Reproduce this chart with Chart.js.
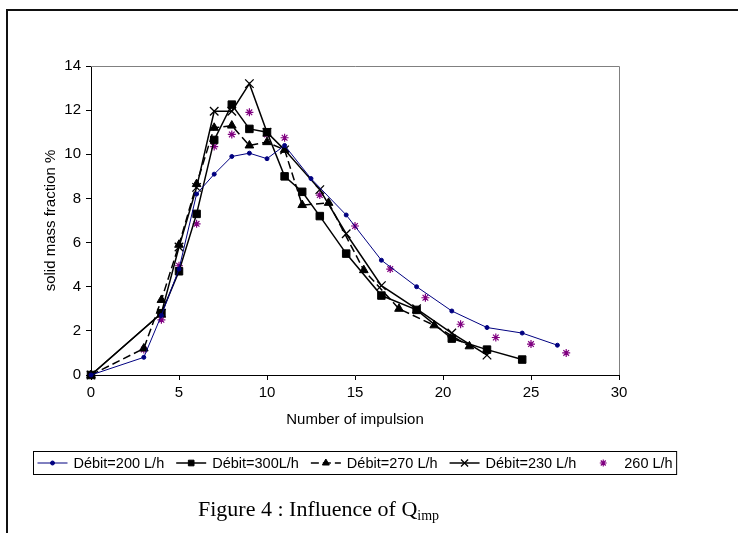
<!DOCTYPE html>
<html>
<head>
<meta charset="utf-8">
<script src="https://cdn.jsdelivr.net/npm/chart.js@4.4.0/dist/chart.umd.min.js"></script>
<style>
    html, body { margin: 0; padding: 0; background: #fff; }
    #wrap { position: relative; width: 738px; height: 533px; overflow: hidden; }
    #frame { position: absolute; left: 6px; top: 9px; width: 800px; height: 600px;
             border-top: 2px solid #111; border-left: 2px solid #111; }
    #impulsion_chart { position: absolute; left: 0; top: 0; }
    #caption { position: absolute; left: 198px; top: 496px; color: #000; white-space: nowrap;
               font-family: "Liberation Serif", "Times New Roman", serif; font-size: 22px; }
    #caption sub { font-size: 14px; vertical-align: -4px; }
</style>
</head>
<body>
<div id="wrap">
    <div id="frame"></div>
    <canvas id="impulsion_chart" width="738" height="533"></canvas>
    <div id="caption">Figure 4 : Influence of Q<sub>imp</sub></div>
</div>
<script>
// values (x = number of impulsion, y = solid mass fraction %)
var x_200 = [0, 3, 4, 5, 6, 7, 8, 9, 10, 11, 12.5, 14.5, 16.5, 18.5, 20.5, 22.5, 24.5, 26.5];
var y_200 = [0, 0.8, 2.7, 4.8, 8.2, 9.1, 9.9, 10.05, 9.8, 10.4, 8.9, 7.25, 5.2, 4.0, 2.9, 2.15, 1.9, 1.35];

var x_300 = [0, 4, 5, 6, 7, 8, 9, 10, 11, 12, 13, 14.5, 16.5, 18.5, 20.5, 22.5, 24.5];
var y_300 = [0, 2.8, 4.7, 7.3, 10.65, 12.25, 11.15, 11.0, 9.0, 8.3, 7.2, 5.5, 3.6, 2.95, 1.65, 1.15, 0.7];

var x_270 = [0, 3, 4, 5, 6, 7, 8, 9, 10, 11, 12, 13.5, 15.5, 17.5, 19.5, 21.5];
var y_270 = [0, 1.2, 3.4, 5.9, 8.65, 11.2, 11.3, 10.4, 10.55, 10.2, 7.7, 7.8, 4.75, 3.0, 2.25, 1.3];

var x_230 = [0, 4, 5, 6, 7, 8, 9, 10, 11, 13, 14.5, 16.5, 18.5, 20.5, 22.5];
var y_230 = [0, 2.8, 5.8, 8.5, 11.95, 11.95, 13.2, 11.0, 10.2, 8.4, 6.4, 4.05, 3.0, 1.9, 0.9];

var x_260 = [0, 3, 4, 5, 6, 7, 8, 9, 10, 11, 13, 15, 17, 19, 21, 23, 25, 27];
var y_260 = [0, 1.15, 2.5, 4.95, 6.85, 10.35, 10.9, 11.9, 10.9, 10.75, 8.15, 6.75, 4.8, 3.5, 2.3, 1.7, 1.4, 1.0];

var series_labels = ['Débit=200 L/h', 'Débit=300L/h', 'Débit=270 L/h', 'Débit=230 L/h', '260 L/h'];

var x_ticks_step = 5;
var y_ticks_step = 2;

function _to_points(xs, ys) {
    let pts = [];
    for (let i = 0; i < xs.length; i++) {
        pts.push({x: xs[i], y: ys[i]});
    }
    return pts;
}

Chart.defaults.font.family = '"Liberation Sans", Arial, sans-serif';
Chart.defaults.color = '#000';

// gray top / right edge of the plot area like excel
var plot_frame = {
    id: 'plot_frame',
    beforeDatasetsDraw: function (chart) {
        let ctx = chart.ctx;
        let a = chart.chartArea;
        ctx.save();
        ctx.strokeStyle = '#808080';
        ctx.lineWidth = 1;
        ctx.beginPath();
        ctx.moveTo(a.left, Math.round(a.top) + 0.5);
        ctx.lineTo(Math.round(a.right) + 0.5, Math.round(a.top) + 0.5);
        ctx.lineTo(Math.round(a.right) + 0.5, a.bottom);
        ctx.stroke();
        ctx.restore();
    }
};

// legend with line + marker samples, boxed, one row
var excel_legend = {
    id: 'excel_legend',
    afterDraw: function (chart) {
        let ctx = chart.ctx;
        let a = chart.chartArea;
        let datasets = chart.data.datasets;
        let sample_w = 30, gap_text = 6, gap_item = 12, pad = 4;
        ctx.save();
        ctx.font = '14.5px "Liberation Sans", Arial, sans-serif';
        let widths = [];
        let total = pad * 2;
        for (let i = 0; i < datasets.length; i++) {
            let w = sample_w + gap_text + ctx.measureText(datasets[i].label).width;
            widths.push(w);
            total += w + (i > 0 ? gap_item : 0);
        }
        let left = Math.round((a.left + a.right) / 2 - total / 2) + 0.5;
        let top = Math.round(a.bottom + 76) + 0.5;
        let height = 23;
        let mid = top + height / 2;

        ctx.strokeStyle = '#000';
        ctx.lineWidth = 1;
        ctx.strokeRect(left, top, total, height);

        let cx = left + pad;
        for (let i = 0; i < datasets.length; i++) {
            let ds = datasets[i];
            if (ds.showLine !== false) {
                ctx.save();
                ctx.strokeStyle = ds.borderColor;
                ctx.lineWidth = ds.borderWidth;
                ctx.setLineDash(ds.borderDash || []);
                ctx.beginPath();
                ctx.moveTo(cx, mid);
                ctx.lineTo(cx + sample_w, mid);
                ctx.stroke();
                ctx.restore();
            }
            ctx.fillStyle = ds.pointBackgroundColor;
            ctx.strokeStyle = ds.pointBorderColor;
            ctx.lineWidth = ds.pointBorderWidth;
            ctx.setLineDash([]);
            Chart.helpers.drawPoint(ctx, {
                pointStyle: ds.pointStyle,
                radius: ds.legendRadius,
                rotation: 0,
                borderWidth: ds.pointBorderWidth
            }, cx + sample_w / 2, mid);
            ctx.fillStyle = '#000';
            ctx.textBaseline = 'middle';
            ctx.textAlign = 'left';
            ctx.fillText(ds.label, cx + sample_w + gap_text, mid + 1);
            cx += widths[i] + gap_item;
        }
        ctx.restore();
    }
};

var impulsion_chart = new Chart(document.getElementById('impulsion_chart').getContext('2d'), {
    type: 'scatter',
    data: {
        datasets: [{
            label: series_labels[0],
            data: _to_points(x_200, y_200),
            showLine: true,
            borderColor: '#000080',
            borderWidth: 1,
            pointStyle: 'circle',
            pointRadius: 2,
            legendRadius: 2,
            pointBackgroundColor: '#000080',
            pointBorderColor: '#000080',
            pointBorderWidth: 1,
            clip: false
        }, {
            label: series_labels[1],
            data: _to_points(x_300, y_300),
            showLine: true,
            borderColor: '#000',
            borderWidth: 1.5,
            pointStyle: 'rect',
            pointRadius: 5.3,
            legendRadius: 4,
            pointBackgroundColor: '#000',
            pointBorderColor: '#000',
            pointBorderWidth: 1,
            clip: false
        }, {
            label: series_labels[2],
            data: _to_points(x_270, y_270),
            showLine: true,
            borderColor: '#000',
            borderWidth: 1.5,
            borderDash: [8, 4],
            pointStyle: 'triangle',
            pointRadius: 5,
            legendRadius: 4,
            pointBackgroundColor: '#000',
            pointBorderColor: '#000',
            pointBorderWidth: 1,
            clip: false
        }, {
            label: series_labels[3],
            data: _to_points(x_230, y_230),
            showLine: true,
            borderColor: '#000',
            borderWidth: 1.5,
            pointStyle: 'crossRot',
            pointRadius: 6,
            legendRadius: 5,
            pointBackgroundColor: '#000',
            pointBorderColor: '#000',
            pointBorderWidth: 1.3,
            clip: false
        }, {
            label: series_labels[4],
            data: _to_points(x_260, y_260),
            showLine: false,
            borderColor: '#800080',
            borderWidth: 0,
            pointStyle: 'star',
            pointRadius: 4,
            legendRadius: 3.5,
            pointBackgroundColor: '#800080',
            pointBorderColor: '#800080',
            pointBorderWidth: 1.2,
            clip: false
        }]
    },
    options: {
        responsive: false,
        animation: false,
        events: [],
        layout: {
            padding: {top: 66, right: 119, bottom: 98, left: 0}
        },
        plugins: {
            legend: {display: false},
            tooltip: {enabled: false},
            title: {display: false}
        },
        scales: {
            x: {
                type: 'linear',
                min: 0,
                max: 30,
                afterFit: function (scale) { scale.height = 60; },
                ticks: {stepSize: x_ticks_step, font: {size: 15}, padding: 4, maxRotation: 0},
                grid: {drawOnChartArea: false, drawTicks: true, tickLength: 5, color: '#000'},
                border: {color: '#000', width: 1},
                title: {
                    display: true,
                    text: 'Number of impulsion',
                    font: {size: 15},
                    padding: {top: 0, bottom: 6}
                }
            },
            y: {
                type: 'linear',
                min: 0,
                max: 14,
                afterFit: function (scale) { scale.width = 91; },
                ticks: {stepSize: y_ticks_step, font: {size: 15}, padding: 5},
                grid: {drawOnChartArea: false, drawTicks: true, tickLength: 5, color: '#000'},
                border: {color: '#000', width: 1},
                title: {
                    display: true,
                    text: 'solid mass fraction %',
                    font: {size: 15},
                    padding: {top: 42, bottom: 0}
                }
            }
        }
    },
    plugins: [plot_frame, excel_legend]
});
</script>
</body>
</html>
